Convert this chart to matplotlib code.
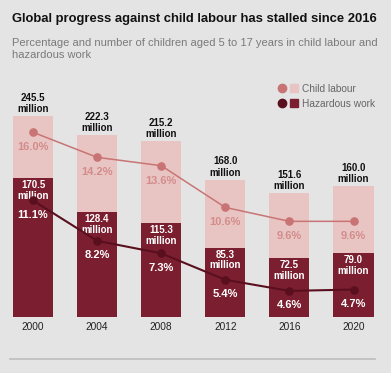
import matplotlib
matplotlib.use("Agg")
import matplotlib.pyplot as plt
from matplotlib.lines import Line2D
from matplotlib.legend_handler import HandlerTuple

plt.rcParams["font.family"] = ["Liberation Sans", "DejaVu Sans"]

years = ["2000", "2004", "2008", "2012", "2016", "2020"]
child_millions = [245.5, 222.3, 215.2, 168.0, 151.6, 160.0]
hazard_millions = [170.5, 128.4, 115.3, 85.3, 72.5, 79.0]
child_pct = [16.0, 14.2, 13.6, 10.6, 9.6, 9.6]
hazard_pct = [11.1, 8.2, 7.3, 5.4, 4.6, 4.7]

BG = "#e4e4e4"
LIGHT_BAR = "#e8c5c2"
DARK_BAR = "#7b1f30"
LIGHT_LINE = "#c97474"
DARK_LINE = "#5a0f1f"
LIGHT_TEXT = "#d38c8c"

fig = plt.figure(figsize=(3.91, 3.73), dpi=100, facecolor=BG)
ax = fig.add_axes([0.0, 0.1488, 1.0, 0.5831])
ax.set_facecolor("none")
x = list(range(len(years)))

ax.bar(x, child_millions, width=0.625, color=LIGHT_BAR, zorder=1)
ax.bar(x, hazard_millions, width=0.625, color=DARK_BAR, zorder=2)
ax.set_xlim(-0.515, 5.585)
ax.set_ylim(0, 265.2)

for xi, v in zip(x, child_millions):
    ax.annotate(f"{v:.1f}\nmillion", (xi, v), xytext=(0, 1.5), textcoords="offset points",
                ha="center", va="bottom", fontsize=7, fontweight="bold",
                color="#111111", linespacing=1.15)
for xi, v in zip(x, hazard_millions):
    ax.annotate(f"{v:.1f}\nmillion", (xi, v), xytext=(0, -1.5), textcoords="offset points",
                ha="center", va="top", fontsize=7, fontweight="bold",
                color="white", linespacing=1.1, zorder=3)

ax.set_xticks(x, years)
ax.tick_params(axis="x", length=0, pad=3, labelsize=7.3, labelcolor="#222222")
ax.set_yticks([])
for s in ax.spines.values():
    s.set_visible(False)

# percentages on a second scale (0% sits below the bar baseline)
ax2 = ax.twinx()
ax2.set_ylim(2.69, 18.32)
ax2.set_yticks([])
for s in ax2.spines.values():
    s.set_visible(False)
ax2.plot(x, child_pct, "-o", color=LIGHT_LINE, lw=1.1, ms=5.2, zorder=4)
ax2.plot(x, hazard_pct, "-o", color=DARK_LINE, lw=1.5, ms=5.2, zorder=4)
for xi, v in zip(x, child_pct):
    ax2.annotate(f"{v:.1f}%", (xi, v), xytext=(0, -10.8), textcoords="offset points",
                 ha="center", va="center", fontsize=8, fontweight="bold", color=LIGHT_TEXT)
for xi, v in zip(x, hazard_pct):
    ax2.annotate(f"{v:.1f}%", (xi, v), xytext=(0, -10.3), textcoords="offset points",
                 ha="center", va="center", fontsize=8, fontweight="bold", color="white")

handles = [
    (Line2D([], [], ls="", marker="o", ms=6, color=LIGHT_LINE),
     Line2D([], [], ls="", marker="s", ms=6, color=LIGHT_BAR)),
    (Line2D([], [], ls="", marker="o", ms=6, color=DARK_LINE),
     Line2D([], [], ls="", marker="s", ms=6, color=DARK_BAR)),
]
fig.legend(handles, ["Child labour", "Hazardous work"],
           handler_map={tuple: HandlerTuple(ndivide=None, pad=0.5)},
           loc="upper left", bbox_to_anchor=(278 / 391, 1 - 84 / 373), frameon=False,
           fontsize=7.3, labelcolor="#666666", handlelength=1.9, handletextpad=0.5,
           labelspacing=0.45, borderpad=0, borderaxespad=0)

fig.text(12 / 391, 1 - 19 / 373, "Global progress against child labour has stalled since 2016",
         ha="left", va="center", fontsize=9.4, fontweight="bold", color="#111111")
fig.text(12 / 391, 1 - 37.5 / 373,
         "Percentage and number of children aged 5 to 17 years in child labour and\nhazardous work",
         ha="left", va="top", fontsize=8, color="#7a7a7a", linespacing=1.3)

fig.add_artist(Line2D([10 / 391, 375 / 391], [1 - 359.3 / 373] * 2,
                      color="#bdbdbd", lw=1.2, transform=fig.transFigure))

fig.savefig("out.png", dpi=100, facecolor=BG)
